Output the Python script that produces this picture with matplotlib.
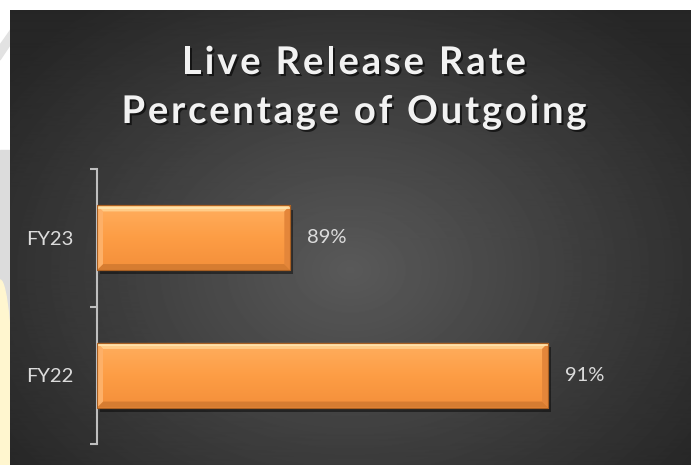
import matplotlib
matplotlib.use("Agg")
import matplotlib.pyplot as plt
import matplotlib.patheffects as pe
from matplotlib.patches import Polygon, Rectangle, Ellipse
from matplotlib.colors import LinearSegmentedColormap
from matplotlib.font_manager import FontProperties, findfont
from matplotlib.ft2font import FT2Font
import numpy as np

categories = ["FY22", "FY23"]
rates = [0.91, 0.89]
value_labels = ["91%", "89%"]
title_lines = ["Live Release Rate", "Percentage of Outgoing"]

W, H = 691, 465
DPI = 100
fig = plt.figure(figsize=(W / DPI, H / DPI), dpi=DPI)
fig.patch.set_facecolor("white")

# slide background + dark gradient panel
bg = fig.add_axes([0, 0, 1, 1])
bg.set_xlim(0, W)
bg.set_ylim(H, 0)
bg.axis("off")
bg.add_patch(Rectangle((0, 150), 12, H - 150, color="#dcdcdc", zorder=0))
bg.add_patch(Ellipse((0, 420), 26, 280, color="#fff6cf", zorder=1))
bg.add_patch(Polygon([[0, 45], [12, 28], [12, 42], [0, 60]], closed=True, color="#e2e2e2", zorder=0))
yy, xx = np.mgrid[11:H, 10:W]
r = np.sqrt(((xx - 350) / 430.0) ** 2 + ((yy - 270) / 330.0) ** 2)
shade = 0.35 - 0.2 * np.clip(r, 0, 1)
bg.imshow(shade, cmap="gray", vmin=0, vmax=1, extent=(10, W, H, 11), aspect="auto", zorder=2)


def spaced_text(s, cx, baseline, size, target_w, **kw):
    """draw s one glyph at a time so the line spans target_w pixels"""
    fp = FontProperties(family="Lato", weight="bold", size=size)
    ft = FT2Font(findfont(fp))
    ft.set_size(size, DPI)
    adv = [ft.load_char(ord(c)).linearHoriAdvance / 65536 for c in s]
    gap = (target_w - sum(adv)) / (len(s) - 1)
    x = cx - target_w / 2
    for c, a in zip(s, adv):
        if c != " ":
            bg.text(x, baseline, c, ha="left", va="baseline", fontproperties=fp, zorder=5, **kw)
        x += a + gap


shadow = [pe.withSimplePatchShadow(offset=(1.5, -1.5), shadow_rgbFace="black", alpha=0.6)]
title_widths = [344, 465]
title_base = [74, 123]
for line, tw, yb in zip(title_lines, title_widths, title_base):
    spaced_text(line, 354, yb, 27.5, tw, color="#f2f2f2", path_effects=shadow)

ax_l, ax_b, ax_w, ax_h = 97, 21, 580, 275
ax = fig.add_axes([ax_l / W, ax_b / H, ax_w / W, ax_h / H])
ax.patch.set_alpha(0)
xmin, xmax = 0.875, 0.92
ax.set_xlim(xmin, xmax)
ax.set_ylim(-0.5, 1.5)

y = np.arange(len(categories))
bar_h = 0.47
bars = ax.barh(y, np.subtract(rates, xmin), height=bar_h, left=xmin, color="#fc9f4a",
               edgecolor="#a85f22", linewidth=0.8, zorder=3)
for b in bars:
    b.set_path_effects([pe.SimplePatchShadow(offset=(2, -3), shadow_rgbFace="black", alpha=0.45), pe.Normal()])

orange = LinearSegmentedColormap.from_list("bar", ["#f48f3a", "#fd9d45", "#ffae5e"])
grad = np.linspace(0, 1, 64).reshape(-1, 1)

# bevel edges
px_x = (xmax - xmin) / ax_w
px_y = 2.0 / ax_h
bev = 6
for b in bars:
    x0, y0 = b.get_x(), b.get_y()
    x1, y1 = x0 + b.get_width(), y0 + b.get_height()
    im = ax.imshow(grad, cmap=orange, aspect="auto", origin="lower", extent=(x0, x1, y0, y1),
                   interpolation="bilinear", zorder=3.5)
    im.set_clip_path(b)
    dx, dy = bev * px_x, bev * px_y
    sides = [
        ([[x0, y1], [x1, y1], [x1 - dx, y1 - dy], [x0 + dx, y1 - dy]], "#ffcc88"),
        ([[x0, y0], [x1, y0], [x1 - dx, y0 + dy], [x0 + dx, y0 + dy]], "#d67c31"),
        ([[x0, y0], [x0, y1], [x0 + dx, y1 - dy], [x0 + dx, y0 + dy]], "#fdb068"),
        ([[x1, y0], [x1, y1], [x1 - dx, y1 - dy], [x1 - dx, y0 + dy]], "#e4863a"),
    ]
    for pts, c in sides:
        ax.add_patch(Polygon(pts, closed=True, facecolor=c, edgecolor="none", zorder=4))
    ax.plot([x0, x1], [y1 - 0.35 * dy] * 2, color="#ffe6b0", lw=1.2, zorder=4.5, solid_capstyle="butt")
    ax.add_patch(Rectangle((x0, y0), x1 - x0, y1 - y0, facecolor="none", edgecolor="#a85f22",
                           linewidth=0.8, zorder=5))
ax.set_xlim(xmin, xmax)
ax.set_ylim(-0.5, 1.5)

for b, lab in zip(bars, value_labels):
    ax.annotate(lab, (b.get_x() + b.get_width(), b.get_y() + b.get_height() / 2),
                xytext=(12, 0), textcoords="offset points", ha="left", va="center",
                fontsize=14.5, family="Lato", color="#dcdcdc")

ax.set_yticks(y)
ax.set_yticklabels(categories, fontsize=14.5, family="Lato", color="#dcdcdc")
ax.set_yticks([-0.5, 0.5, 1.5], minor=True)
ax.tick_params(axis="y", which="major", length=0, pad=17)
ax.tick_params(axis="y", which="minor", length=5, width=1.5, color="#bfbfbf", direction="out")
ax.set_xticks([])
for s in ["top", "right", "bottom"]:
    ax.spines[s].set_visible(False)
ax.spines["left"].set_color("#bfbfbf")
ax.spines["left"].set_linewidth(1.5)

fig.savefig("out.png", dpi=DPI)
